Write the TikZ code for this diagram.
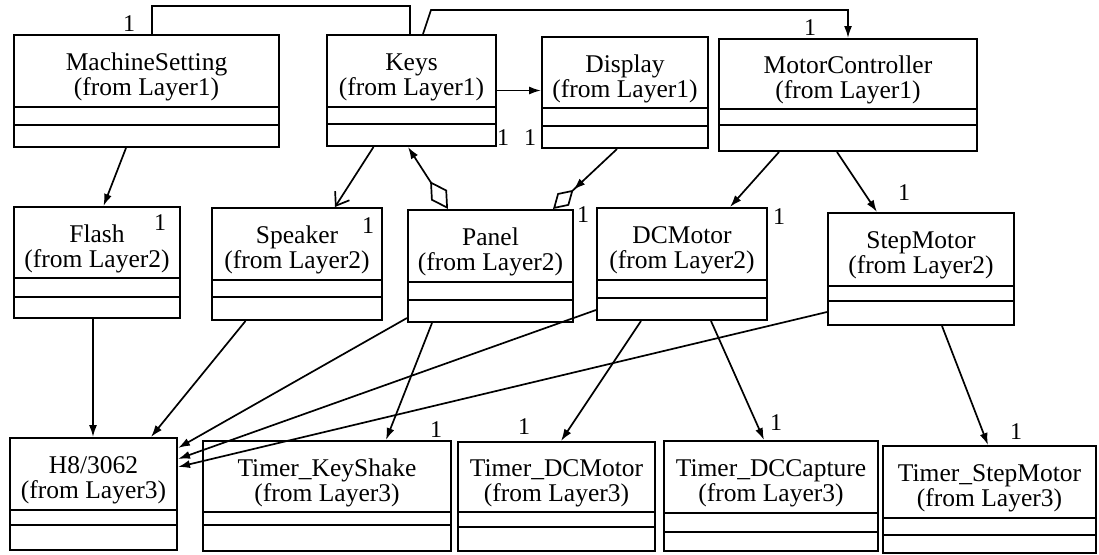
\documentclass[tikz,border=0pt]{standalone}
\usepackage{fontspec}
\setmainfont{Liberation Serif}
\usetikzlibrary{arrows.meta,fit,calc}

% A UML class: frame, two compartment rules and the name text.
% #1 name, #2 left, #3 top, #4 right, #5 bottom, #6 first rule, #7 second rule, #8 label
\newcommand{\umlclass}[8]{%
  \node[boxframe, fit={(#2,#3) (#4,#5)}] (#1) {};
  \draw[boxrule] (#2,#6) -- (#4,#6);
  \draw[boxrule, line width=2.3pt] (#2,#7) -- (#4,#7);
  \node[boxlabel] (#1-label) at ($(#2,#3)!0.5!(#4,#6)$) {#8};
}

\begin{document}
\begin{tikzpicture}[x=1pt, y=-1pt,
  boxframe/.style={draw, line width=2pt, rectangle, inner sep=0pt},
  boxrule/.style={line width=1.8pt},
  boxlabel/.style={font=\fontsize{25.5}{25}\selectfont, align=center, inner sep=0pt, yshift=-6pt},
  mult/.style={font=\fontsize{24}{24}\selectfont, inner sep=0pt},
  link/.style={line width=1.7pt},
  nav/.style={link, -{Latex[length=12pt,width=8pt]}},
  navopen/.style={link, -{Straight Barb[length=12pt,width=17pt,line width=1.7pt]}},
  part/.style={link, {Diamond[open,length=33pt,width=19pt,line width=1.7pt]}-{Latex[length=12pt,width=8pt]}},
]
\useasboundingbox (0,0) rectangle (1099,554);

% Layer 1
\umlclass{ms}{14}{35}{279}{147}{107}{125}{MachineSetting\\(from Layer1)}
\umlclass{keys}{327}{35}{496}{146}{107}{124}{Keys\\(from Layer1)}
\umlclass{disp}{542}{37}{708}{148}{108}{126}{Display\\(from Layer1)}
\umlclass{mc}{719}{39}{977}{151}{109}{125}{MotorController\\(from Layer1)}

% Layer 2
\umlclass{flash}{14}{207}{180}{318}{278}{297}{Flash\\(from Layer2)}
\umlclass{spk}{212}{208}{382}{320}{280}{297}{Speaker\\(from Layer2)}
\umlclass{panel}{408}{210}{573}{322}{282}{300}{Panel\\(from Layer2)}
\umlclass{dcm}{597}{208}{767}{320}{280}{298}{DCMotor\\(from Layer2)}
\umlclass{stm}{828}{213}{1014}{325}{286}{301}{StepMotor\\(from Layer2)}

% Layer 3
\umlclass{h8}{10}{438}{177}{550}{510}{525}{H8/3062\\(from Layer3)}
\umlclass{tks}{203}{441}{451}{551}{512}{525}{Timer\_KeyShake\\(from Layer3)}
\umlclass{tdc}{458}{442}{655}{551}{512}{527}{Timer\_DCMotor\\(from Layer3)}
\umlclass{tcap}{664}{441}{878}{551}{513}{532}{Timer\_DCCapture\\(from Layer3)}
\umlclass{tstm}{883}{446}{1096}{553}{518}{535}{Timer\_StepMotor\\(from Layer3)}

% Associations across the top
\draw[link] ([xshift=5.5pt]ms.north) -- ++(0,-28) -| ([xshift=-1.5pt]keys.north);
\draw[nav] ([xshift=11.5pt]keys.north) -- ++(8,-24) -| (mc.north);
\draw[nav] (keys.east) -- (keys.east -| disp.west);

% Layer 1 to layer 2
\draw[nav] ([xshift=-20.5pt]ms.south) -- ([xshift=6.5pt]flash.north);
\draw[navopen] ([xshift=-38pt]keys.south) -- ([xshift=38pt]spk.north);
\draw[part] ([xshift=-42.5pt]panel.north) -- ([xshift=-3.5pt]keys.south);
\draw[link, -{Latex[length=12pt,width=8pt] Diamond[open,length=28pt,width=17pt,line width=1.7pt]}]
  ([xshift=-8pt]disp.south) -- ([xshift=62.5pt]panel.north);
\draw[nav] ([xshift=-69pt]mc.south) -- ([xshift=48pt]dcm.north);
\draw[nav] ([xshift=-11pt]mc.south) -- ([xshift=-44pt]stm.north);

% Layer 2 to layer 3
\draw[nav] ([xshift=-4pt]flash.south) -- ([xshift=-0.5pt]h8.north);
\draw[nav] ([xshift=-51.5pt]spk.south) -- ([xshift=57.5pt]h8.north);
\draw[nav] ([yshift=5pt]panel.south west) -- ([yshift=46pt]h8.east);
\draw[nav] ([yshift=-46pt]dcm.west) -- ([yshift=35pt]h8.east);
\draw[nav] ([yshift=-43pt]stm.west) -- ([yshift=27pt]h8.east);
\draw[nav] ([xshift=-58.5pt]panel.south) -- ([xshift=59pt]tks.north);
\draw[nav] ([xshift=-41pt]dcm.south) -- ([xshift=4.5pt]tdc.north);
\draw[nav] ([xshift=29pt]dcm.south) -- ([xshift=-7pt]tcap.north);
\draw[nav] ([xshift=21pt]stm.south) -- ([xshift=-1.5pt]tstm.north);

% Multiplicities
\node[mult] (m1) at (129,24) {1};
\node[mult] (m2) at (810,28) {1};
\node[mult] (m3) at (503,138) {1};
\node[mult] (m4) at (530,138) {1};
\node[mult] (m5) at (160,223) {1};
\node[mult] (m6) at (368,226) {1};
\node[mult] (m7) at (583,215) {1};
\node[mult] (m8) at (779,217) {1};
\node[mult] (m9) at (904,193) {1};
\node[mult] (m10) at (436,430) {1};
\node[mult] (m11) at (524,427) {1};
\node[mult] (m12) at (776,423) {1};
\node[mult] (m13) at (1016,432) {1};
\end{tikzpicture}
\end{document}
